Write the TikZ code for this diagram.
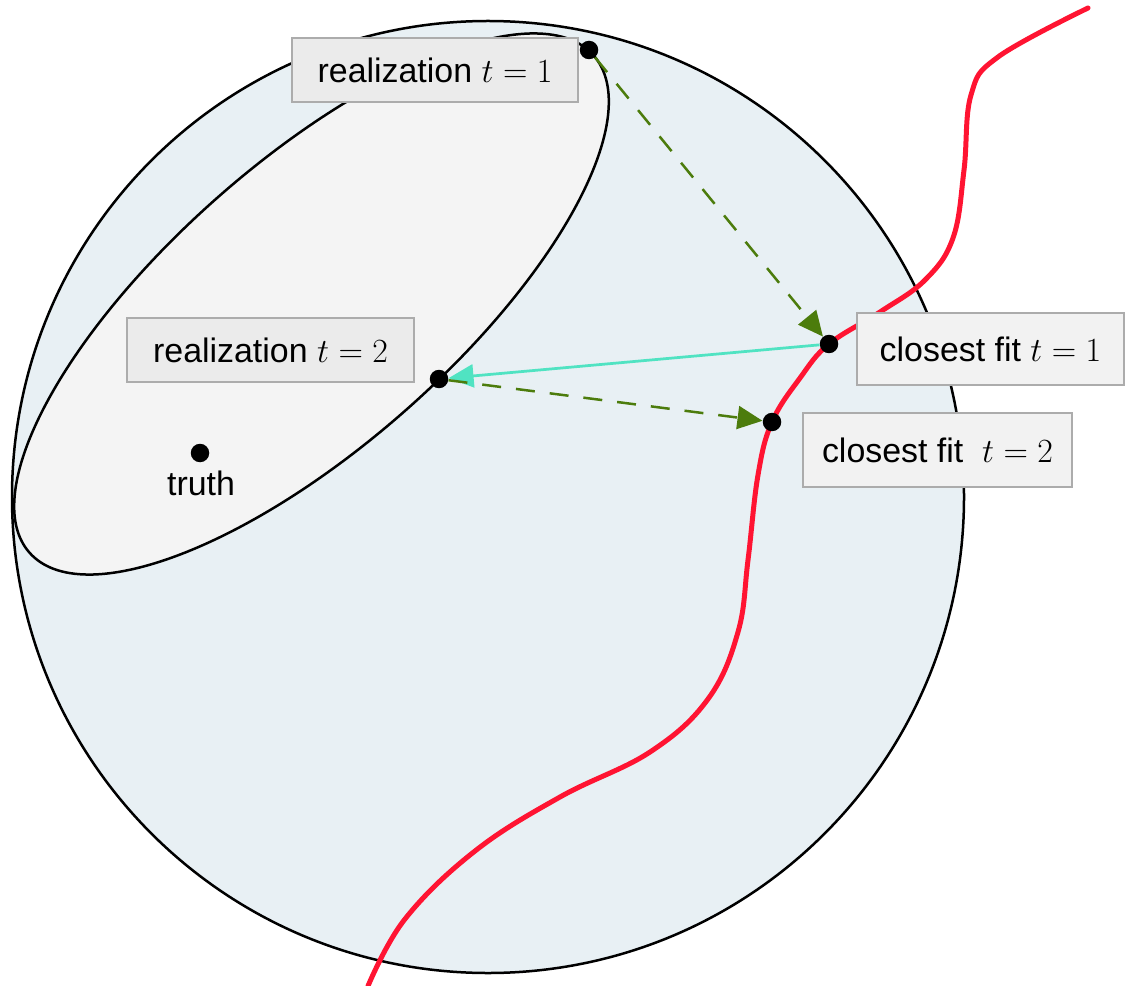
\documentclass[tikz,border=0pt]{standalone}
\usepackage{fix-cm}
\usepackage{fontspec}
\setmainfont{Liberation Sans}
\usetikzlibrary{arrows.meta}

\definecolor{ballfill}{RGB}{232,240,244}
\definecolor{setfill}{RGB}{244,244,244}
\definecolor{boxfillA}{RGB}{235,235,235}
\definecolor{boxfillB}{RGB}{242,242,242}
\definecolor{boxline}{RGB}{172,172,172}
\definecolor{fitred}{RGB}{255,20,50}
\definecolor{projgreen}{RGB}{76,124,12}
\definecolor{backcyan}{RGB}{80,227,194}

\newcommand{\labelfont}{\fontsize{19.3}{23}\selectfont}

\tikzset{
  ball/.style={draw=black, line width=0.05cm, fill=ballfill},
  realset/.style={draw=black, line width=0.05cm, fill=setfill},
  dot/.style={circle, fill=black, inner sep=0pt, minimum size=0.37cm},
  lbl/.style={draw=boxline, line width=0.045cm, font=\labelfont, inner sep=0pt},
  fitcurve/.style={draw=fitred, line width=0.1cm, line cap=round, line join=round},
  proj/.style={draw=projgreen, line width=0.05cm, dash pattern=on 0.38cm off 0.3cm,
    -{Triangle[length=0.5cm,width=0.46cm]}},
  backarrow/.style={draw=backcyan, line width=0.055cm,
    -{Triangle[length=0.5cm,width=0.46cm]}}
}

\begin{document}
\begin{tikzpicture}[x=0.02cm,y=-0.02cm]
  \useasboundingbox (0,0) rectangle (1125,986);

  % ball around the truth
  \path[ball] (488,497) circle [radius=476];

  % set of realizations
  \path[realset, rotate around={41.4:(311.5,304)}]
    (311.5,304) ellipse [x radius=376, y radius=142];

  % model manifold
  \draw[fitcurve] plot[smooth, tension=0.65] coordinates {
    (368,986) (405,919) (475,851) (560,797) (650,752) (708,699)
    (738,632) (748,560) (758,475) (772,422) (800,378) (829,344)
    (880,312) (925,280) (953,238) (964,170) (971,95) (998,57)
    (1088,8)};

  % points
  \node[dot] (r1) at (589,50) {};
  \node[dot] (r2) at (439,379) {};
  \node[dot] (c1) at (829,344) {};
  \node[dot] (c2) at (772,422) {};
  \node[dot] (tr) at (200,453) {};
  \node[font=\labelfont, inner sep=0pt] (trl) at (201,483) {truth};

  % projections and the step back
  \draw[proj] (r1) -- (c1);
  \draw[backarrow] (c1) -- (r2);
  \draw[proj] (r2) -- (c2);

  % labels
  \node[lbl, fill=boxfillA, minimum width=5.72cm, minimum height=1.28cm]
    (lr1) at (435,70) {realization $t=1$};
  \node[lbl, fill=boxfillA, minimum width=5.74cm, minimum height=1.28cm]
    (lr2) at (270.5,350) {realization $t=2$};
  \node[lbl, fill=boxfillB, minimum width=5.34cm, minimum height=1.44cm]
    (lc1) at (990.5,349) {closest fit $t=1$};
  \node[lbl, fill=boxfillB, minimum width=5.38cm, minimum height=1.48cm]
    (lc2) at (937.5,450) {closest fit\ \ $t=2$};
\end{tikzpicture}
\end{document}
